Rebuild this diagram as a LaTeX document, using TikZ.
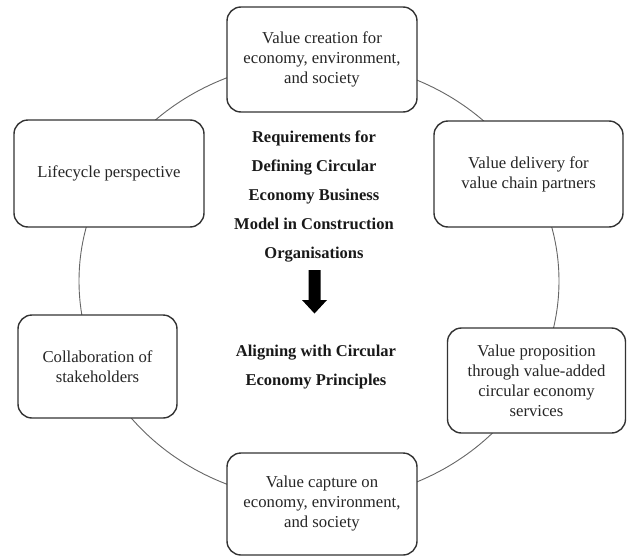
\documentclass[tikz,border=0pt]{standalone}
\usepackage{fontspec}
\setmainfont{Liberation Serif}
\begin{document}
\begin{tikzpicture}[x=1pt,y=-1pt,
  box/.style={draw=black!80, line width=1.4pt, rounded corners=14pt, fill=white,
    align=center, inner sep=0pt, font=\fontsize{16.7}{20}\selectfont, text=black!85},
  ring/.style={draw=black!60, line width=0.9pt},
  title/.style={align=center, font=\bfseries\fontsize{16.5}{29}\selectfont, text=black!90}]
\useasboundingbox[fill=white] (0,0) rectangle (627,557);
\draw[ring] (319,281) ellipse [x radius=240pt, y radius=220pt];
\node[box, minimum width=190pt, minimum height=105pt] (create) at (322,59.5)
  {Value creation for\\economy, environment,\\and society};
\node[box, minimum width=189pt, minimum height=106pt] (deliver) at (528.5,174)
  {Value delivery for\\value chain partners};
\node[box, minimum width=178pt, minimum height=105pt] (propose) at (536.5,380.5)
  {Value proposition\\through value-added\\circular economy\\services};
\node[box, minimum width=190pt, minimum height=102pt] (capture) at (322,504)
  {Value capture on\\economy, environment,\\and society};
\node[box, minimum width=190pt, minimum height=107pt] (life) at (109,173.5)
  {Lifecycle perspective};
\node[box, minimum width=159pt, minimum height=103pt] (collab) at (97.5,366.5)
  {Collaboration of\\stakeholders};
\node[title] (req) at (314,196.5)
  {Requirements for\\Defining Circular\\Economy Business\\Model in Construction\\Organisations};
\node[title] (align) at (316,367)
  {Aligning with Circular\\Economy Principles};
\coordinate (arr) at (314.5,270);
\fill[black] (arr) ++(-6,0) -- ++(12,0) -- ++(0,30) -- ++(6.5,0) -- (314.5,313.5) -- ++(-12.5,-13.5) -- ++(6.5,0) -- cycle;
\end{tikzpicture}
\end{document}
